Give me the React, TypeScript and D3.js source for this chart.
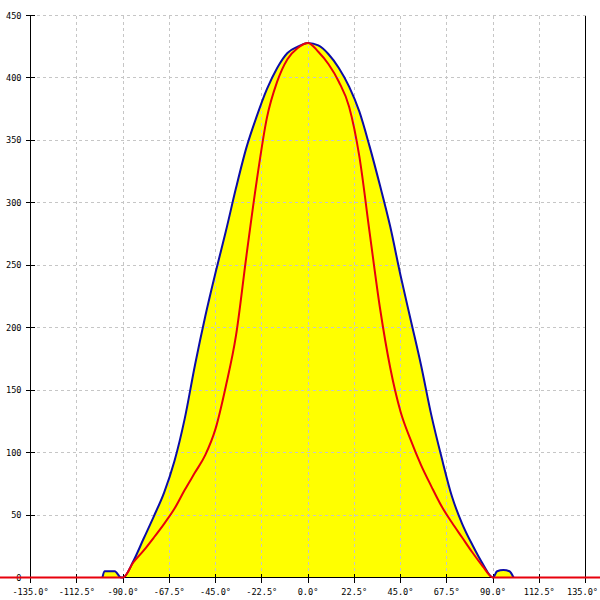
import React, { useEffect, useRef } from 'react';
import * as d3 from 'd3';

// tick labels
const xTicks = [-135, -112.5, -90, -67.5, -45, -22.5, 0, 22.5, 45, 67.5, 90, 112.5, 135];
const yTicks = [0, 50, 100, 150, 200, 250, 300, 350, 400, 450];

// outer (blue) series, filled yellow
const blueAngles = [
    -100, -99, -94, -91, -90, -85, -80, -75, -70, -65, -60, -55, -50, -45, -40, -35, -30, -25, -20, -15, -10, -5,
    0, 5, 10, 15, 20, 25, 30, 35, 40, 45, 50, 55, 60, 65, 70, 75, 80, 85, 90, 92, 95, 98, 100,
];
const blueValues = [
    0, 5, 5, 0, 0, 13, 31, 49, 68, 93, 127, 170, 209, 244, 277, 312, 344, 369, 391, 408, 420, 425,
    428, 426, 419, 408, 393, 373, 345, 314, 281, 242, 206, 170, 130, 96, 65, 43, 26, 11, 0, 5, 6, 5, 0,
];

// inner (red) series
const redAngles = [
    -180, -90, -85, -80, -75, -70, -65, -60, -55, -50, -45, -40, -35, -30, -25, -20, -15, -10, -5,
    0, 5, 10, 15, 20, 25, 30, 35, 40, 45, 50, 55, 60, 65, 70, 75, 80, 85, 90, 180,
];
const redValues = [
    0, 0, 12, 21.5, 32, 43, 55, 70, 84, 98, 119, 153, 194, 257, 317, 368, 397, 415, 424,
    428, 421, 411, 397, 377, 337, 276, 216, 168, 133, 110, 90, 73, 57, 44, 32, 20, 9, 0, 0,
];

const FONT = '"DejaVu Sans Mono", monospace';

const App: React.FC = () => {
    const svgRef = useRef<SVGSVGElement | null>(null);

    useEffect(() => {
        if (!svgRef.current) return;
        const svg = d3.select(svgRef.current);
        svg.selectAll('*').remove();

        const x = d3.scaleLinear().domain([-135, 135]).range([30.5, 585.5]);
        const y = d3.scaleLinear().domain([0, 450]).range([577.5, 15.5]);

        // yellow area under the blue curve
        const area = d3
            .area<number>()
            .x((d, i) => x(blueAngles[i]))
            .y0(y(0))
            .y1((d) => y(d))
            .curve(d3.curveMonotoneX);
        svg.append('path').datum(blueValues).attr('d', area).attr('fill', '#ffff00');

        // grid
        const grid = svg.append('g').attr('stroke', '#c6c6c6').attr('stroke-dasharray', '3,3').attr('shape-rendering', 'crispEdges');
        grid.selectAll('line.v')
            .data(xTicks.slice(1, -1))
            .join('line')
            .attr('class', 'v')
            .attr('x1', (d) => x(d))
            .attr('x2', (d) => x(d))
            .attr('y1', y(450))
            .attr('y2', y(0));
        grid.selectAll('line.h')
            .data(yTicks.slice(1))
            .join('line')
            .attr('class', 'h')
            .attr('x1', x(-135))
            .attr('x2', x(135))
            .attr('y1', (d) => y(d))
            .attr('y2', (d) => y(d));

        // axes
        const axes = svg.append('g').attr('stroke', '#000').attr('shape-rendering', 'crispEdges');
        axes.append('line').attr('x1', x(-135)).attr('x2', x(-135)).attr('y1', y(450)).attr('y2', y(0));
        axes.append('line').attr('x1', x(135)).attr('x2', x(135)).attr('y1', y(450)).attr('y2', y(0));
        axes.append('line').attr('x1', x(-135)).attr('x2', x(135)).attr('y1', y(0)).attr('y2', y(0));
        axes.selectAll('line.yt')
            .data(yTicks)
            .join('line')
            .attr('class', 'yt')
            .attr('x1', x(-135) - 5)
            .attr('x2', x(-135) + 4)
            .attr('y1', (d) => y(d))
            .attr('y2', (d) => y(d));
        axes.selectAll('line.xt')
            .data(xTicks)
            .join('line')
            .attr('class', 'xt')
            .attr('x1', (d) => x(d))
            .attr('x2', (d) => x(d))
            .attr('y1', y(0) - 4)
            .attr('y2', y(0) + 5);

        // labels
        svg.append('g')
            .selectAll('text')
            .data(yTicks)
            .join('text')
            .attr('x', x(-135) - 9)
            .attr('y', (d) => y(d))
            .attr('dy', '0.35em')
            .attr('text-anchor', 'end')
            .attr('font-family', FONT)
            .attr('font-size', 8.6)
            .attr('fill', '#000')
            .text((d) => String(d));
        svg.append('g')
            .selectAll('text')
            .data(xTicks)
            .join('text')
            .attr('x', (d, i) => (i === xTicks.length - 1 ? x(d) - 3 : x(d)))
            .attr('y', 595)
            .attr('text-anchor', 'middle')
            .attr('font-family', FONT)
            .attr('font-size', 8.6)
            .attr('fill', '#000')
            .text((d) => d.toFixed(1) + '°');

        // series lines
        const blueLine = d3
            .line<number>()
            .x((d, i) => x(blueAngles[i]))
            .y((d) => y(d))
            .curve(d3.curveMonotoneX);
        svg.append('path')
            .datum(blueValues)
            .attr('d', blueLine)
            .attr('fill', 'none')
            .attr('stroke', '#0c0ca8')
            .attr('stroke-width', 2);

        const redLine = d3
            .line<number>()
            .x((d, i) => x(redAngles[i]))
            .y((d) => y(d))
            .curve(d3.curveMonotoneX);
        svg.append('path')
            .datum(redValues)
            .attr('d', redLine)
            .attr('fill', 'none')
            .attr('stroke', '#e8000c')
            .attr('stroke-width', 2);
    }, []);

    return (
        <div style={{ position: 'absolute', left: 0, top: 0 }}>
            <svg ref={svgRef} width={600} height={600} style={{ display: 'block', background: '#fff' }} />
        </div>
    );
};

export default App;
